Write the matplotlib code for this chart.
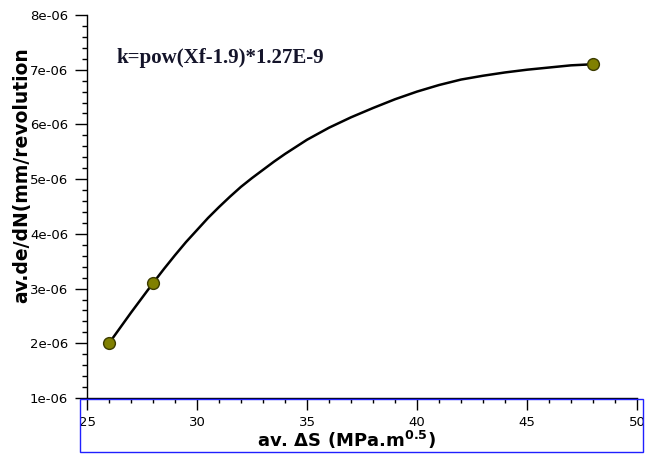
import matplotlib
matplotlib.use("Agg")
import matplotlib.pyplot as plt
from matplotlib.patches import Rectangle
from matplotlib.ticker import MultipleLocator, FuncFormatter

# measured points (markers)
pts_x = [26, 28, 48]
pts_y = [2.0e-6, 3.1e-6, 7.1e-6]

# fitted curve
curve_x = [26, 26.5, 27, 27.5, 28, 28.5, 29, 29.5, 30, 30.5, 31, 31.5,
           32, 32.5, 33, 33.5, 34, 35, 36, 37, 38, 39, 40, 41, 42, 43,
           44, 45, 46, 47, 48]
curve_y = [2.0e-6, 2.28e-6, 2.56e-6, 2.83e-6, 3.1e-6, 3.36e-6, 3.61e-6,
           3.85e-6, 4.07e-6, 4.29e-6, 4.49e-6, 4.68e-6, 4.86e-6, 5.02e-6,
           5.17e-6, 5.32e-6, 5.46e-6, 5.72e-6, 5.94e-6, 6.13e-6, 6.3e-6,
           6.46e-6, 6.6e-6, 6.72e-6, 6.82e-6, 6.89e-6, 6.95e-6, 7.0e-6,
           7.04e-6, 7.08e-6, 7.1e-6]

formula = "k=pow(Xf-1.9)*1.27E-9"

fig = plt.figure(figsize=(6.48, 4.55), dpi=100)
ax = fig.add_axes([87 / 648, 1 - 398 / 455, (637 - 87) / 648, (398 - 15) / 455])

ax.plot(curve_x, curve_y, color='black', linewidth=1.8, zorder=2)
ax.plot(pts_x, pts_y, linestyle='none', marker='o', markersize=8.5,
        markerfacecolor='#808000', markeredgecolor='#3c3c00',
        markeredgewidth=1.0, zorder=3)

ax.set_xlim(25, 50)
ax.set_ylim(1e-6, 8e-6)
ax.xaxis.set_major_locator(MultipleLocator(5))
ax.xaxis.set_minor_locator(MultipleLocator(1))
ax.yaxis.set_major_locator(MultipleLocator(1e-6))
ax.yaxis.set_minor_locator(MultipleLocator(0.2e-6))
ax.yaxis.set_major_formatter(FuncFormatter(lambda v, p: f"{v:.0e}"))

ax.spines['top'].set_visible(False)
ax.spines['right'].set_visible(False)
for s in ('left', 'bottom'):
    ax.spines[s].set_linewidth(1.0)
    ax.spines[s].set_zorder(4)
ax.tick_params(which='major', length=8.6, width=1.0, labelsize=9.5, direction='out')
ax.tick_params(which='minor', length=3.6, width=1.0, direction='out')
ax.tick_params(axis='x', pad=4)
ax.tick_params(axis='y', pad=5)

fig.text(22 / 648, 1 - 175 / 455, "av.de/dN(mm/revolution", rotation=90, ha='center', va='center',
         fontsize=13.5, fontweight='bold')
fig.text(346 / 648, 1 - 440 / 455, "av. ΔS (MPa.m" + r"$^{\mathbf{0.5}}$" + ")", ha='center', va='center',
         fontsize=13, fontweight='bold')

ax.text(116 / 648, 1 - 58 / 455, formula, transform=fig.transFigure, ha='left', va='center',
        fontsize=15, fontweight='bold', family='Liberation Serif', color='#14142a')

# blue frame under the x axis
fig.patches.append(Rectangle((80 / 648, 1 - 452 / 455), (643 - 80) / 648, (452 - 399) / 455,
                             transform=fig.transFigure, fill=False, edgecolor='#2020ff',
                             linewidth=1.0, zorder=0))

fig.savefig("out.png", dpi=100)
